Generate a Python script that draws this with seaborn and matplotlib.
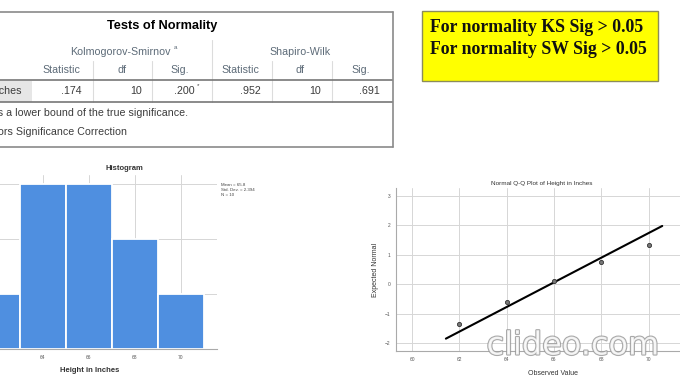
import matplotlib
matplotlib.use("Agg")
import matplotlib.pyplot as plt
import matplotlib.patheffects as pe
from matplotlib.patches import Rectangle
import seaborn as sns
import numpy as np
import pandas as pd

# ---------------- data ----------------
table_title = "Tests of Normality"
test_groups = ["Kolmogorov-Smirnov", "Shapiro-Wilk"]
col_headers = ["Statistic", "df", "Sig.", "Statistic", "df", "Sig."]
row_label = "Height in Inches"
row_values = [".174", "10", ".200", ".952", "10", ".691"]
footnotes = ["*. This is a lower bound of the true significance.",
             "a. Lilliefors Significance Correction"]
note_lines = ["For normality KS Sig > 0.05", "For normality SW Sig > 0.05"]

hist_bins = [62, 64, 66, 68, 70]
hist_counts = [1, 3, 3, 2, 1]
hist_stats = ["Mean = 65.8", "Std. Dev. = 2.394", "N = 10"]

qq_observed = [62, 64, 66, 68, 70]
qq_expected = [-1.34, -0.62, 0.10, 0.74, 1.33]
qq_line_x = [61.43, 70.58]
qq_line_y = [-1.85, 1.98]
qq_xticks = [60, 62, 64, 66, 68, 70]
qq_yticks = [-2, -1, 0, 1, 2, 3]

# ---------------- figure ----------------
sns.set_style("white")
plt.rcParams['font.family'] = ['Liberation Sans', 'DejaVu Sans']
W, H = 680, 383
fig = plt.figure(figsize=(6.8, 3.83), dpi=100)
fig.patch.set_facecolor("white")

# overlay axes in pixel coordinates for table and notes
ov = fig.add_axes([0, 0, 1, 1])
ov.set_xlim(0, W)
ov.set_ylim(H, 0)
ov.axis("off")

hdr_c = "#5d6b78"
dat_c = "#3c3c3c"
line_c = "#8a8a8a"
faint_c = "#dcdcdc"
tfs = 7.7

# table frame
ov.plot([-80, 393], [12, 12], color=line_c, lw=1.2)
ov.plot([-80, 393], [147, 147], color=line_c, lw=1.2)
ov.plot([393, 393], [12, 147], color=line_c, lw=1.2)
ov.text(162, 26, table_title, ha="center", va="center", fontsize=9.2,
        fontweight="bold", color="black")
# group headers
ov.text(120, 52, test_groups[0], ha="center", va="center", fontsize=tfs, color=hdr_c)
ov.text(175, 47.5, "a", ha="center", va="center", fontsize=4.5, color=hdr_c)
ov.text(300, 52, test_groups[1], ha="center", va="center", fontsize=tfs, color=hdr_c)
# column headers
hdr_x = [61, 122, 180, 240, 300, 361]
for x, t in zip(hdr_x, col_headers):
    ov.text(x, 70, t, ha="center", va="center", fontsize=tfs, color=hdr_c)
# separators
ov.plot([212, 212], [40, 102], color=faint_c, lw=0.8)
for x in [93, 152, 272, 332]:
    ov.plot([x, x], [61, 102], color=faint_c, lw=0.8)
ov.plot([-80, 392], [80, 80], color="#777777", lw=1.2)
ov.plot([-80, 392], [102, 102], color="#777777", lw=1.2)
# data row
ov.add_patch(Rectangle((-80, 81), 112, 20.5, color="#e6e6e6", lw=0))
ov.text(22, 91, row_label, ha="right", va="center", fontsize=tfs, color=dat_c)
val_x = [82, 142, 195, 261, 321, 380]
for x, t in zip(val_x, row_values):
    ov.text(x, 91, t, ha="right", va="center", fontsize=tfs, color=dat_c)
ov.text(196.5, 86, "*", ha="left", va="center", fontsize=4.5, color=dat_c)
# footnotes
ov.text(188, 113, footnotes[0], ha="right", va="center", fontsize=tfs, color=dat_c)
ov.text(127, 132, footnotes[1], ha="right", va="center", fontsize=tfs, color=dat_c)

# yellow note box
ov.add_patch(Rectangle((422, 11), 236, 70, facecolor="#ffff00",
                       edgecolor="#8c8c5a", lw=1.0))
for i, t in enumerate(note_lines):
    ov.text(430, 28 + 21 * i, t, ha="left", va="center", fontsize=12.8,
            fontweight="bold", color="#111111", family="Liberation Serif")

# ---------------- histogram ----------------
hx0, hx1, hy0, hy1 = -37, 217, 175, 349
axh = fig.add_axes([hx0 / W, (H - hy1) / H, (hx1 - hx0) / W, (hy1 - hy0) / H])
axh.set_axisbelow(True)
sns.histplot(x=hist_bins, weights=hist_counts, binwidth=2, binrange=(61, 71),
             color="#4f8fe0", edgecolor="white", linewidth=1.3, alpha=1.0, ax=axh)
axh.set_xlim(60.52, 71.57)
axh.set_ylim(0, 3.16)
axh.set_xticks(hist_bins)
axh.set_xticklabels([str(v) for v in hist_bins])
axh.set_yticks([0, 1, 2, 3])
axh.grid(True, color="#d6d6d6", lw=0.7)
axh.tick_params(length=0, labelsize=3.5, colors="#555555", pad=4)
for s in ["top", "right", "left"]:
    axh.spines[s].set_visible(False)
axh.spines["bottom"].set_color("#aaaaaa")
axh.spines["bottom"].set_linewidth(0.8)
axh.set_ylabel("")
axh.set_xlabel("Height in Inches", fontsize=5.5, fontweight="bold", color="#333333", labelpad=5)
ov.text(124, 169, "Histogram", ha="center", va="center", fontsize=5.5,
        fontweight="bold", color="#333333")
for i, t in enumerate(hist_stats):
    ov.text(221, 185 + 4.8 * i, t, ha="left", va="center", fontsize=3.2, color="#444444")

# ---------------- Q-Q plot ----------------
qx0, qx1, qy0, qy1 = 396, 710, 188, 351
axq = fig.add_axes([qx0 / W, (H - qy1) / H, (qx1 - qx0) / W, (qy1 - qy0) / H])
axq.set_axisbelow(True)
sns.lineplot(x=qq_line_x, y=qq_line_y, color="black", lw=1.5, ax=axq)
sns.scatterplot(x=qq_observed, y=qq_expected, s=9, color="#777777",
                edgecolor="#333333", linewidth=0.6, ax=axq, zorder=3)
axq.set_xlim(59.32, 72.6)
axq.set_ylim(-2.27, 3.27)
axq.set_xticks(qq_xticks)
axq.set_yticks(qq_yticks)
axq.grid(True, color="#d6d6d6", lw=0.7)
axq.tick_params(length=0, labelsize=3.5, colors="#555555", pad=4)
for s in ["top", "right"]:
    axq.spines[s].set_visible(False)
for s in ["left", "bottom"]:
    axq.spines[s].set_color("#aaaaaa")
    axq.spines[s].set_linewidth(0.8)
axq.set_xlabel("Observed Value", fontsize=5, color="#333333", labelpad=6)
axq.set_ylabel("Expected Normal", fontsize=5, color="#333333", labelpad=4)
ov.text(542, 183, "Normal Q-Q Plot of Height in Inches", ha="center", va="center",
        fontsize=4.6, color="#333333")

# watermark
fig.text(573 / W, 1 - 346 / H, "clideo.com", ha="center", va="center",
         fontsize=23, color="white", alpha=0.85, family="DejaVu Sans",
         path_effects=[pe.withStroke(linewidth=1.6, foreground="#9a9a9a")],
         zorder=10)

fig.savefig("out.png", dpi=100, facecolor="white")
